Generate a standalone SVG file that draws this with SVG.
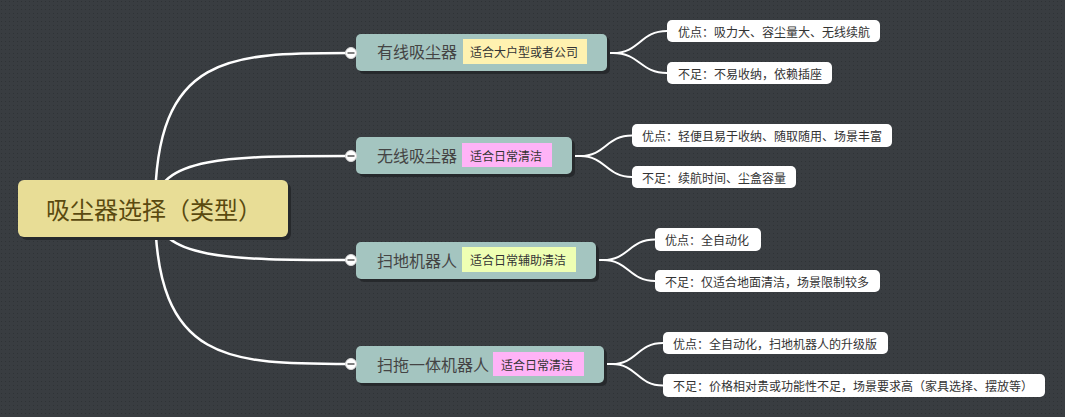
<svg xmlns="http://www.w3.org/2000/svg" width="1065" height="417" viewBox="0 0 1065 417">
<defs>
<pattern id="dots" width="4" height="4" patternUnits="userSpaceOnUse">
<rect width="4" height="4" fill="#393d41"/>
<rect x="1" y="1" width="1" height="1" fill="#2f3336"/>
</pattern>
<style>
text{font-family:"Noto Sans CJK SC","Microsoft YaHei",sans-serif;dominant-baseline:central}
.root{fill:#e8dd96}
.rootT{font-size:24px;fill:#5a4a10}
.shadow{fill:#26292c}
.branch{fill:#a4c5c0}
.branchT{font-size:16px;fill:#444}
.tagY{fill:#fff2b0}
.tagP{fill:#ffb3f7}
.tagG{fill:#eeffb3}
.tagT{font-size:12px;fill:#333}
.leaf{fill:#fff}
.leafT{font-size:12px;fill:#333}
.conn{fill:none;stroke:#fff;stroke-width:2.5;stroke-linecap:round}
.conn2{fill:none;stroke:#fff;stroke-width:2}
.knob{fill:#fff;stroke:#d8d8d8;stroke-width:1}
.minus{stroke:#555;stroke-width:1.5}
</style>
</defs>
<rect width="1065" height="417" fill="url(#dots)"/>

<g id="connectors">
<path class="conn" d="M155,208 C155,53 230,53 350,53"/>
<path class="conn" d="M155,208 C155,156 230,156 350,156"/>
<path class="conn" d="M155,208 C155,260 230,260 350,260"/>
<path class="conn" d="M155,208 C155,364 230,364 350,364"/>
<path class="conn2" d="M607,53 L613,53 C640,53 640,31 667,31"/>
<path class="conn2" d="M607,53 L613,53 C640,53 640,73 667,73"/>
<path class="conn2" d="M572,156 L580,156 C606,156 606,135.5 632,135.5"/>
<path class="conn2" d="M572,156 L580,156 C606,156 606,177 632,177"/>
<path class="conn2" d="M596,260 L603,260 C629,260 629,239.5 655,239.5"/>
<path class="conn2" d="M596,260 L603,260 C629,260 629,281 655,281"/>
<path class="conn2" d="M604,364 L612,364 C637,364 637,343 663,343"/>
<path class="conn2" d="M604,364 L612,364 C637,364 637,385.5 663,385.5"/>
</g>

<g id="root">
<rect class="shadow" x="21" y="183" width="270" height="57" rx="6"/>
<rect class="root" x="18" y="180" width="270" height="57" rx="6"/>
<text class="rootT" x="46" y="208">吸尘器选择（类型）</text>
</g>

<g id="n1">
<rect class="shadow" x="359" y="37" width="251" height="37" rx="5"/>
<rect class="branch" x="356" y="34" width="251" height="37" rx="5"/>
<text class="branchT" x="377" y="51">有线吸尘器</text>
<rect class="tagY" x="463" y="39" width="124" height="25"/>
<text class="tagT" x="470" y="51.5">适合大户型或者公司</text>
<circle class="knob" cx="351" cy="53" r="5.5"/>
<line class="minus" x1="347.5" y1="53" x2="354.5" y2="53"/>
</g>

<g id="n2">
<rect class="shadow" x="359" y="140" width="216" height="37" rx="5"/>
<rect class="branch" x="356" y="137" width="216" height="37" rx="5"/>
<text class="branchT" x="377" y="154.5">无线吸尘器</text>
<rect class="tagP" x="462" y="143" width="90" height="24"/>
<text class="tagT" x="470" y="155">适合日常清洁</text>
<circle class="knob" cx="351" cy="156" r="5.5"/>
<line class="minus" x1="347.5" y1="156" x2="354.5" y2="156"/>
</g>

<g id="n3">
<rect class="shadow" x="359" y="245" width="240" height="37" rx="5"/>
<rect class="branch" x="356" y="242" width="240" height="37" rx="5"/>
<text class="branchT" x="377" y="259.5">扫地机器人</text>
<rect class="tagG" x="462" y="247" width="114" height="25"/>
<text class="tagT" x="470" y="259.5">适合日常辅助清洁</text>
<circle class="knob" cx="351" cy="260" r="5.5"/>
<line class="minus" x1="347.5" y1="260" x2="354.5" y2="260"/>
</g>

<g id="n4">
<rect class="shadow" x="359" y="349" width="248" height="37" rx="5"/>
<rect class="branch" x="356" y="346" width="248" height="37" rx="5"/>
<text class="branchT" x="377" y="363.5">扫拖一体机器人</text>
<rect class="tagP" x="493" y="352" width="91" height="24"/>
<text class="tagT" x="501" y="364">适合日常清洁</text>
<circle class="knob" cx="351" cy="364" r="5.5"/>
<line class="minus" x1="347.5" y1="364" x2="354.5" y2="364"/>
</g>

<g id="l1a"><rect class="leaf" x="667" y="20" width="213" height="22" rx="5"/><text class="leafT" x="678" y="31">优点：吸力大、容尘量大、无线续航</text></g>
<g id="l1b"><rect class="leaf" x="667" y="62" width="165" height="22" rx="5"/><text class="leafT" x="678" y="73">不足：不易收纳，依赖插座</text></g>
<g id="l2a"><rect class="leaf" x="632" y="124" width="260" height="23" rx="5"/><text class="leafT" x="642" y="135.5">优点：轻便且易于收纳、随取随用、场景丰富</text></g>
<g id="l2b"><rect class="leaf" x="632" y="166" width="164" height="22" rx="5"/><text class="leafT" x="642" y="177">不足：续航时间、尘盒容量</text></g>
<g id="l3a"><rect class="leaf" x="655" y="228" width="106" height="23" rx="5"/><text class="leafT" x="665" y="239.5">优点：全自动化</text></g>
<g id="l3b"><rect class="leaf" x="655" y="270" width="225" height="22" rx="5"/><text class="leafT" x="665" y="281">不足：仅适合地面清洁，场景限制较多</text></g>
<g id="l4a"><rect class="leaf" x="663" y="332" width="225" height="22" rx="5"/><text class="leafT" x="673" y="343">优点：全自动化，扫地机器人的升级版</text></g>
<g id="l4b"><rect class="leaf" x="663" y="374" width="382" height="23" rx="5"/><text class="leafT" x="673" y="385.5">不足：价格相对贵或功能性不足，场景要求高（家具选择、摆放等）</text></g>
</svg>
